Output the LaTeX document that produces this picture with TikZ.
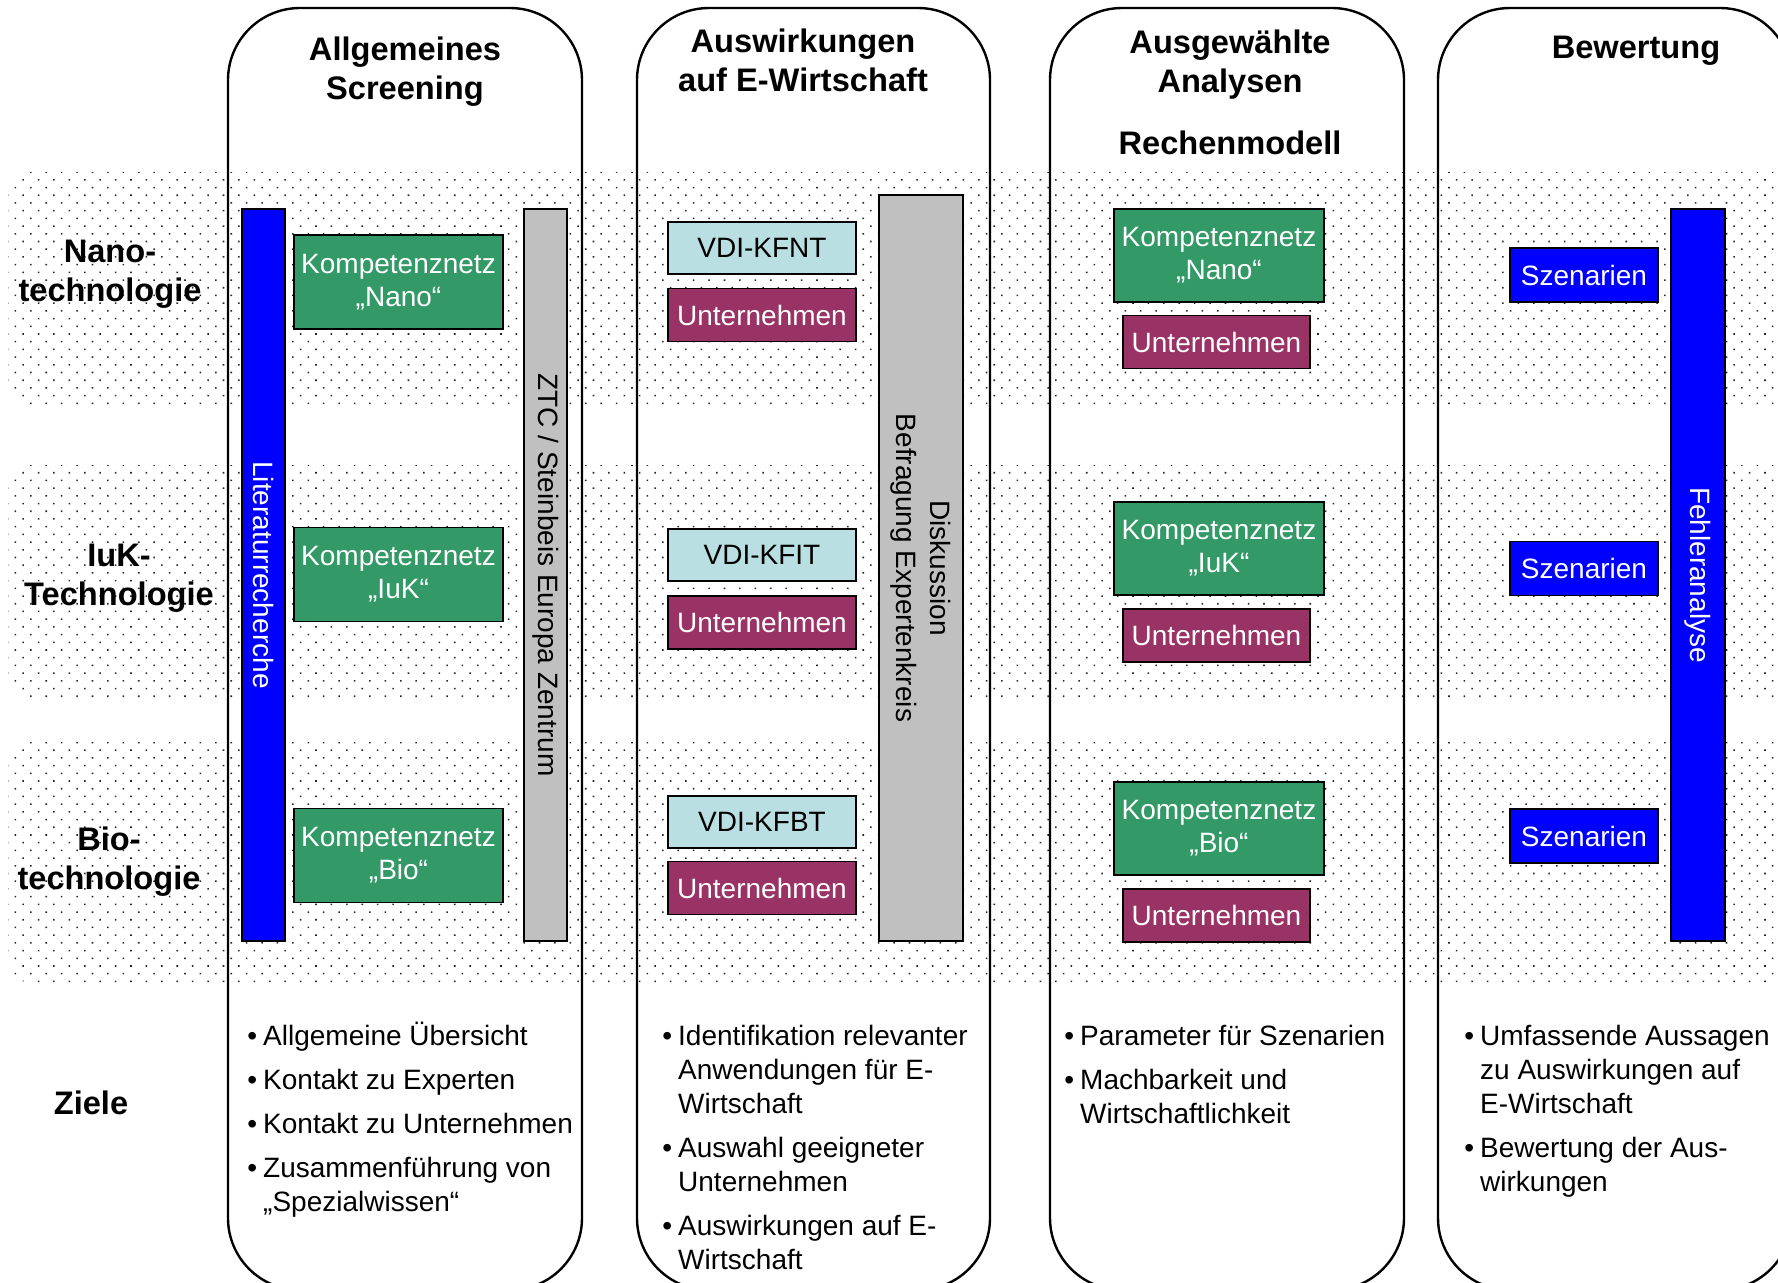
\documentclass[tikz,border=0pt]{standalone}
\usepackage{fontspec}
\setmainfont{Liberation Sans}
\usetikzlibrary{patterns.meta}

\definecolor{kngreen}{RGB}{51,153,102}
\definecolor{unmaroon}{RGB}{153,51,102}
\definecolor{vdicyan}{RGB}{185,223,227}
\definecolor{bargray}{RGB}{192,192,192}

\begin{document}
\begin{tikzpicture}[
  x=0.5pt, y=-0.5pt,
  font=\fontsize{14}{17}\selectfont,
  band/.style={
    pattern={Dots[distance=5.45pt, radius=0.55pt, angle=45]},
    pattern color=black!85, rounded corners=12pt,
  },
  column/.style={draw, line width=1.2pt, rounded corners=36pt},
  hdr/.style={font=\fontsize{16.3}{19.5}\selectfont\bfseries, align=center},
  box/.style={draw, line width=0.9pt, inner sep=0pt, align=center},
  kbox/.style={box, fill=kngreen, text=white,
    font=\fontsize{14}{16.5}\selectfont, minimum width=104.5pt, minimum height=47pt},
  ubox/.style={box, fill=unmaroon, text=white, minimum width=94pt, minimum height=26.5pt},
  vbox/.style={box, fill=vdicyan, minimum width=94pt, minimum height=26pt},
  sbox/.style={box, fill=blue, text=white, minimum width=74pt, minimum height=27pt},
  bar/.style={box, rotate=-90, minimum width=366pt},
  goal/.style={anchor=base west, inner sep=0pt},
]

\useasboundingbox (0,0) rectangle (1778,1282);
\clip (0,0) rectangle (1778,1282);

\path[band] (8,172) rectangle (1800,406);
\path[band] (8,465) rectangle (1800,698);
\path[band] (8,742) rectangle (1800,983);

\draw[column] (228,8) rectangle (582,1290);
\draw[column] (637,8) rectangle (990,1290);
\draw[column] (1050,8) rectangle (1404,1290);
\draw[column] (1438,8) rectangle (1792,1290);

\node[hdr] (hscreen) at (405,72) {Allgemeines\\Screening};
\node[hdr] (hwirk) at (803,60) {Auswirkungen\\auf E-Wirtschaft};
\node[hdr] (hanalyse) at (1230,65) {Ausgewählte\\Analysen};
\node[hdr] (hmodell) at (1230,143) {Rechenmodell};
\node[hdr] (hbewert) at (1636,51) {Bewertung};

\node[hdr] (rnano) at (110,274) {Nano-\\technologie};
\node[hdr] (riuk) at (119,578) {IuK-\\Technologie};
\node[hdr] (rbio) at (109,862) {Bio-\\technologie};
\node[hdr] (rziele) at (91,1103) {Ziele};

\node[bar, fill=blue, text=white, minimum height=21.5pt] (litbar) at (263.5,575) {Literaturrecherche};
\node[kbox] (knnano) at (398.5,282) {Kompetenznetz\\„Nano“};
\node[kbox] (kniuk) at (398.5,574.5) {Kompetenznetz\\„IuK“};
\node[kbox] (knbio) at (398.5,855.5) {Kompetenznetz\\„Bio“};
\node[bar, fill=bargray, minimum height=21.5pt] (ztcbar) at (545.5,575) {ZTC / Steinbeis Europa Zentrum};

\node[vbox] (vdint) at (762,248) {VDI-KFNT};
\node[ubox] (unnano) at (762,315) {Unternehmen};
\node[vbox] (vdiit) at (762,555) {VDI-KFIT};
\node[ubox] (uniuk) at (762,622.5) {Unternehmen};
\node[vbox] (vdibt) at (762,822) {VDI-KFBT};
\node[ubox] (unbio) at (762,888) {Unternehmen};
\node[bar, fill=bargray, minimum width=373pt, minimum height=42pt] (diskbar) at (921,568)
  {Diskussion\\Befragung Expertenkreis};

\node[kbox, minimum width=105pt, minimum height=46.5pt] (rmnano) at (1219,255.5) {Kompetenznetz\\„Nano“};
\node[ubox, minimum width=93.5pt] (rmunnano) at (1216.5,342) {Unternehmen};
\node[kbox, minimum width=105pt, minimum height=46.5pt] (rmiuk) at (1219,548.5) {Kompetenznetz\\„IuK“};
\node[ubox, minimum width=93.5pt] (rmuniuk) at (1216.5,635.5) {Unternehmen};
\node[kbox, minimum width=105pt, minimum height=46.5pt] (rmbio) at (1219,828.5) {Kompetenznetz\\„Bio“};
\node[ubox, minimum width=93.5pt] (rmunbio) at (1216.5,915.5) {Unternehmen};

\node[sbox] (sznano) at (1584,275) {Szenarien};
\node[sbox] (sziuk) at (1584,568.5) {Szenarien};
\node[sbox] (szbio) at (1584,836) {Szenarien};
\node[bar, fill=blue, text=white, minimum height=27pt] (fehlerbar) at (1698,575) {Fehleranalyse};

\node[goal] (gscreen) at (247,1045) {%
  \begin{tabular}[t]{@{}l@{\hspace{3pt}}l@{}}
  • & Allgemeine Übersicht\\[5pt]
  • & Kontakt zu Experten\\[5pt]
  • & Kontakt zu Unternehmen\\[5pt]
  • & Zusammenführung von\\
    & „Spezialwissen“
  \end{tabular}};
\node[goal] (gwirk) at (662,1045) {%
  \begin{tabular}[t]{@{}l@{\hspace{3pt}}l@{}}
  • & Identifikation relevanter\\
    & Anwendungen für E-\\
    & Wirtschaft\\[5pt]
  • & Auswahl geeigneter\\
    & Unternehmen\\[5pt]
  • & Auswirkungen auf E-\\
    & Wirtschaft
  \end{tabular}};
\node[goal] (ganalyse) at (1064,1045) {%
  \begin{tabular}[t]{@{}l@{\hspace{3pt}}l@{}}
  • & Parameter für Szenarien\\[5pt]
  • & Machbarkeit und\\
    & Wirtschaftlichkeit
  \end{tabular}};
\node[goal] (gbewert) at (1464,1045) {%
  \begin{tabular}[t]{@{}l@{\hspace{3pt}}l@{}}
  • & Umfassende Aussagen\\
    & zu Auswirkungen auf\\
    & E-Wirtschaft\\[5pt]
  • & Bewertung der Aus-\\
    & wirkungen
  \end{tabular}};

\end{tikzpicture}
\end{document}
